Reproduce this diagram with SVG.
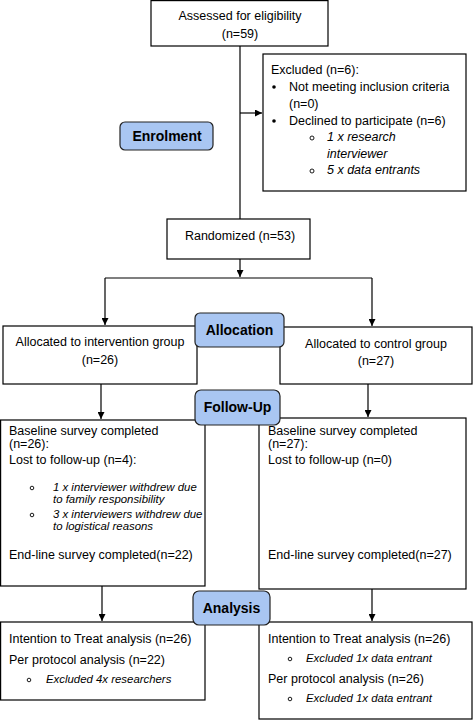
<svg xmlns="http://www.w3.org/2000/svg" width="473" height="720" viewBox="0 0 473 720">
<defs>
<marker id="ah" viewBox="0 0 10 10" refX="10" refY="5" markerWidth="7" markerHeight="7" markerUnits="userSpaceOnUse" orient="auto"><path d="M0,0 L10,5 L0,10 z" fill="#000"/></marker>
</defs>
<style>
.box{fill:#fff;stroke:#000;stroke-width:1.2}
.lab{fill:#a9c6f2;stroke:#222;stroke-width:1.2}
text{font-family:"Liberation Sans",Arial,sans-serif;font-size:12.5px;fill:#000}
.c{text-anchor:middle}
.b{font-weight:bold;font-size:14px}
.i{font-style:italic;font-size:11.4px}
.ib{font-style:italic;font-size:12.5px}
.conn{stroke:#000;stroke-width:1.2;fill:none}
.dot{fill:#000}
.circ{fill:none;stroke:#000;stroke-width:0.9}
</style>
<rect width="473" height="720" fill="#fff"/>
<g id="connectors">
<path class="conn" d="M240,46 V219"/>
<path class="conn" d="M240,113 H262" marker-end="url(#ah)"/>
<path class="conn" d="M240,259 V277" marker-end="url(#ah)"/>
<path class="conn" d="M105,278 H372"/>
<path class="conn" d="M105,278 V325" marker-end="url(#ah)"/>
<path class="conn" d="M372,278 V326" marker-end="url(#ah)"/>
<path class="conn" d="M101,384 V419" marker-end="url(#ah)"/>
<path class="conn" d="M368,384 V417" marker-end="url(#ah)"/>
<path class="conn" d="M102,586 V621" marker-end="url(#ah)"/>
<path class="conn" d="M372,589 V621" marker-end="url(#ah)"/>
</g>
<g id="assessed">
<rect class="box" x="151" y="0.6" width="177" height="45.4"/>
<text class="c" x="240" y="20">Assessed for eligibility</text>
<text class="c" x="240" y="38">(n=59)</text>
</g>
<g id="excluded">
<rect class="box" x="263" y="54" width="203" height="137"/>
<text x="271" y="74">Excluded (n=6):</text>
<circle class="dot" cx="274" cy="87" r="1.8"/>
<text x="289" y="91">Not meeting inclusion criteria</text>
<text x="289" y="108">(n=0)</text>
<circle class="dot" cx="274" cy="121" r="1.8"/>
<text x="289" y="125">Declined to participate (n=6)</text>
<circle class="circ" cx="312" cy="138" r="2"/>
<text class="ib" x="327" y="141">1 x research</text>
<text class="ib" x="327" y="158">interviewer</text>
<circle class="circ" cx="312" cy="171" r="2"/>
<text class="ib" x="327" y="174">5 x data entrants</text>
</g>
<g id="enrolment">
<rect class="lab" x="120" y="122" width="93" height="28" rx="5"/>
<text class="c b" x="167" y="141">Enrolment</text>
</g>
<g id="randomized">
<rect class="box" x="167" y="219" width="143" height="40"/>
<text class="c" x="240" y="240">Randomized (n=53)</text>
</g>
<g id="alloc-intervention">
<rect class="box" x="3" y="326" width="194" height="58"/>
<text class="c" x="100" y="346">Allocated to intervention group</text>
<text class="c" x="100" y="364">(n=26)</text>
</g>
<g id="alloc-control">
<rect class="box" x="280" y="327" width="192" height="57"/>
<text class="c" x="376" y="348">Allocated to control group</text>
<text class="c" x="376" y="365">(n=27)</text>
</g>
<g id="allocation">
<rect class="lab" x="195" y="313" width="89" height="34" rx="5"/>
<text class="c b" x="239.5" y="335">Allocation</text>
</g>
<g id="followup-intervention">
<rect class="box" x="0.6" y="420" width="204.4" height="166"/>
<text x="9" y="435">Baseline survey completed</text>
<text x="9" y="448">(n=26):</text>
<text x="9" y="464">Lost to follow-up (n=4):</text>
<circle class="circ" cx="32" cy="488" r="1.8"/>
<text class="i" x="53" y="491">1 x interviewer withdrew due</text>
<text class="i" x="53" y="503">to family responsibility</text>
<circle class="circ" cx="32" cy="515" r="1.8"/>
<text class="i" x="53" y="518">3 x interviewers withdrew due</text>
<text class="i" x="53" y="530">to logistical reasons</text>
<text x="9" y="559">End-line survey completed(n=22)</text>
</g>
<g id="followup-control">
<rect class="box" x="259" y="418" width="207" height="171"/>
<text x="268" y="435">Baseline survey completed</text>
<text x="268" y="448">(n=27):</text>
<text x="268" y="464">Lost to follow-up (n=0)</text>
<text x="268" y="559">End-line survey completed(n=27)</text>
</g>
<g id="followup">
<rect class="lab" x="195" y="390" width="85" height="35" rx="6"/>
<text class="c b" x="237.5" y="412">Follow-Up</text>
</g>
<g id="analysis-intervention">
<rect class="box" x="0.6" y="622" width="204.4" height="78"/>
<text x="9" y="643">Intention to Treat analysis (n=26)</text>
<text x="9" y="664">Per protocol analysis (n=22)</text>
<circle class="circ" cx="29" cy="680" r="1.8"/>
<text class="i" x="46" y="683">Excluded 4x researchers</text>
</g>
<g id="analysis-control">
<rect class="box" x="259" y="622" width="213" height="97"/>
<text x="268" y="643">Intention to Treat analysis (n=26)</text>
<circle class="circ" cx="290" cy="659" r="1.8"/>
<text class="i" x="306" y="662">Excluded 1x data entrant</text>
<text x="268" y="683">Per protocol analysis (n=26)</text>
<circle class="circ" cx="290" cy="699" r="1.8"/>
<text class="i" x="306" y="702">Excluded 1x data entrant</text>
</g>
<g id="analysis">
<rect class="lab" x="193" y="591" width="77" height="34" rx="6"/>
<text class="c b" x="231.5" y="613">Analysis</text>
</g>
</svg>
